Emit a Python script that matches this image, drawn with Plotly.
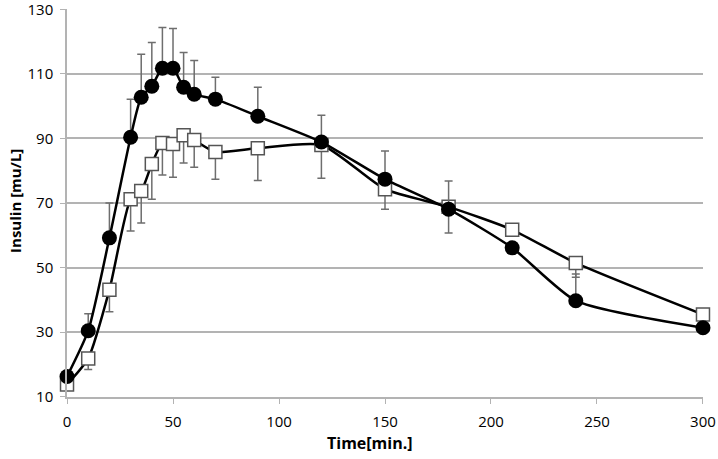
import plotly.graph_objects as go

time = [0, 10, 20, 30, 35, 40, 45, 50, 55, 60, 70, 90, 120, 150, 180, 210, 240, 300]

circle_vals = [16.2, 30.4, 59.2, 90.4, 102.8, 106.2, 111.8, 111.8, 105.9, 103.7, 102.2, 96.9, 88.9, 77.4, 68.1, 56.1, 39.7, 31.3]
circle_upper = [16.2, 35.7, 70.0, 102.2, 116.1, 119.8, 124.4, 124.1, 116.7, 114.2, 109.0, 105.9, 97.2, 86.1, 76.8, 56.1, 48.0, 31.3]

square_vals = [13.7, 21.8, 43.1, 71.2, 73.7, 82.1, 88.6, 88.3, 91.0, 89.5, 85.8, 87.0, 88.0, 74.3, 68.8, 61.7, 51.4, 35.4]
square_lower = [13.7, 18.4, 36.3, 61.3, 63.8, 71.2, 78.7, 78.0, 82.4, 81.1, 77.4, 77.0, 77.7, 68.1, 60.7, 61.7, 47.0, 35.4]

x_ticks = [0, 50, 100, 150, 200, 250, 300]
y_ticks = [10, 30, 50, 70, 90, 110, 130]

x_title = "Time[min.]"
y_title = "Insulin [mu/L]"

sq_minus = [v - l for v, l in zip(square_vals, square_lower)]
sq_plus = [0 for _ in square_vals]
ci_plus = [u - v for v, u in zip(circle_vals, circle_upper)]
ci_minus = [0 for _ in circle_vals]

fig = go.Figure()
fig.add_trace(go.Scatter(
    x=time, y=square_vals, mode="lines+markers", cliponaxis=False,
    line=dict(color="black", width=2.5, shape="spline", smoothing=0.6),
    marker=dict(symbol="square", size=13, color="white", line=dict(color="#555555", width=1.5)),
    error_y=dict(type="data", symmetric=False, array=sq_plus, arrayminus=sq_minus,
                 color="#6e6e6e", thickness=1.5, width=4),
    showlegend=False,
))
fig.add_trace(go.Scatter(
    x=time, y=circle_vals, mode="lines+markers", cliponaxis=False,
    line=dict(color="black", width=2.5, shape="spline", smoothing=0.6),
    marker=dict(symbol="circle", size=15, color="black"),
    error_y=dict(type="data", symmetric=False, array=ci_plus, arrayminus=ci_minus,
                 color="#6e6e6e", thickness=1.5, width=4),
    showlegend=False,
))

fig.update_layout(
    width=718, height=459,
    margin=dict(l=67, r=15, t=9, b=62),
    paper_bgcolor="white", plot_bgcolor="white",
    font=dict(family="Open Sans", size=15, color="black"),
    annotations=[
        dict(text="<b>" + x_title + "</b>", xref="paper", yref="paper",
             x=0.476, y=-0.118, xanchor="center", yanchor="middle",
             showarrow=False, font=dict(size=16)),
        dict(text="<b>" + y_title + "</b>", xref="paper", yref="paper",
             x=-0.082, y=0.505, xanchor="center", yanchor="middle", textangle=-90,
             showarrow=False, font=dict(size=15)),
    ],
)
fig.update_xaxes(
    range=[-0.01, 300.01], tickvals=x_ticks, showgrid=False, zeroline=False,
    showline=True, linecolor="#b3b3b3", linewidth=1.5, automargin=False,
    ticks="outside", ticklen=5, tickcolor="#b3b3b3", tickfont=dict(size=15),
    ticklabeloverflow="allow", ticklabelstandoff=5,
)
fig.update_yaxes(
    range=[9.85, 130.15], tickvals=y_ticks, showgrid=True, gridcolor="#b3b3b3", gridwidth=1.5,
    zeroline=False, showline=True, linecolor="#b3b3b3", linewidth=1.5, automargin=False,
    ticks="outside", ticklen=5, tickcolor="#b3b3b3", tickfont=dict(size=15),
    ticklabeloverflow="allow", ticklabelstandoff=4,
)

fig.write_html("out.html", config={"displayModeBar": False},
               post_script="document.body.style.margin='0';document.body.style.overflow='hidden';")
